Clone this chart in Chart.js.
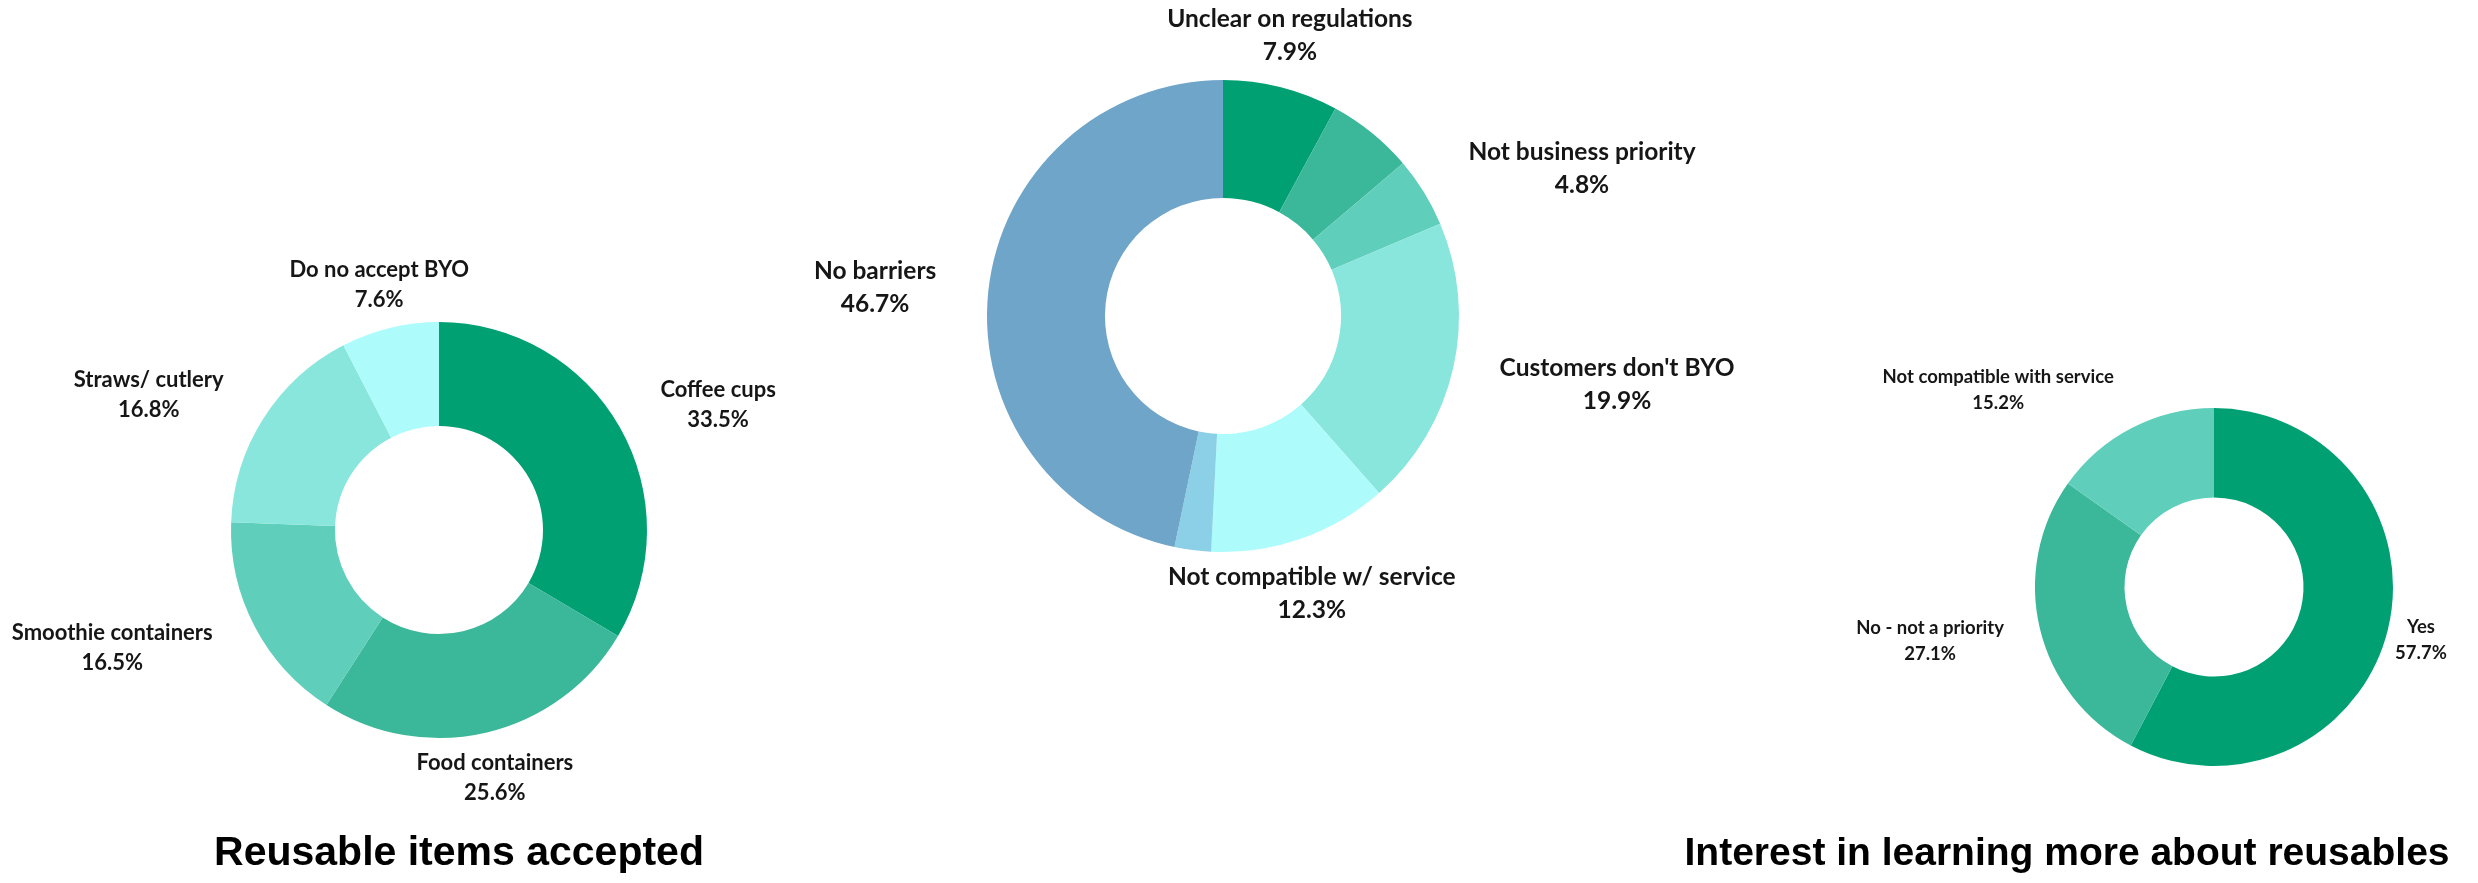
<!DOCTYPE html>
<html>
<head>
<meta charset="utf-8">
<script src="https://cdn.jsdelivr.net/npm/chart.js@4.4.1/dist/chart.umd.min.js"></script>
<style>
  html, body { margin: 0; padding: 0; background: #fff; }
  #wrap { position: relative; width: 2478px; height: 883px; overflow: hidden; }
  #wrap canvas { position: absolute; left: 0; top: 0; }
</style>
</head>
<body>
<div id="wrap">
  <canvas id="items" width="2478" height="883"></canvas>
  <canvas id="barriers" width="2478" height="883"></canvas>
  <canvas id="interest" width="2478" height="883"></canvas>
</div>
<script>
// reusable items accepted
const itemLabels = ['Coffee cups', 'Food containers', 'Smoothie containers', 'Straws/ cutlery', 'Do no accept BYO'];
const itemValues = [33.5, 25.6, 16.5, 16.8, 7.6];

// barriers (two small slices carry no label in the original)
const barrierLabels = ['Unclear on regulations', '', 'Not business priority', "Customers don't BYO", 'Not compatible w/ service', '', 'No barriers'];
const barrierValues = [7.9, 5.9, 4.8, 19.9, 12.3, 2.5, 46.7];

// interest in learning more
const interestLabels = ['Yes', 'No - not a priority', 'Not compatible with service'];
const interestValues = [57.7, 27.1, 15.2];

const titleItems = 'Reusable items accepted';
const titleInterest = 'Interest in learning more about reusables';

const green = ['#00a073', '#3bb79a', '#5fcebb', '#89e6dc', '#adfcfb'];
const barrierColors = ['#00a073', '#3bb79a', '#5fcebb', '#89e6dc', '#adfcfb', '#8bd0e6', '#6ea5c8'];

// draws the two-line labels around the ring, plus an optional title
const sliceLabels = {
  id: 'sliceLabels',
  afterDatasetsDraw(chart, args, opts) {
    const ctx = chart.ctx;
    const meta = chart.getDatasetMeta(0);
    const values = chart.data.datasets[0].data;
    ctx.save();
    ctx.fillStyle = '#161616';
    ctx.font = 'bold ' + opts.size + 'px Lato, "Open Sans", sans-serif';
    ctx.textAlign = 'center';
    ctx.textBaseline = 'middle';
    meta.data.forEach((arc, i) => {
      const name = chart.data.labels[i];
      if (!name) return;
      const p = arc.getProps(['x', 'y', 'startAngle', 'endAngle', 'outerRadius'], true);
      const shift = opts.spots[i][0], dist = opts.spots[i][1];
      const a = (p.startAngle + p.endAngle) / 2 + shift * Math.PI / 180;
      const x = p.x + Math.cos(a) * p.outerRadius * dist;
      const y = p.y + Math.sin(a) * p.outerRadius * dist;
      ctx.fillText(name, x, y - opts.gap / 2);
      ctx.fillText(values[i].toFixed(1) + '%', x, y + opts.gap / 2);
    });
    if (opts.title) {
      const t = opts.title;
      ctx.fillStyle = '#000';
      ctx.font = 'bold ' + t.size + 'px "Liberation Sans", Arial, sans-serif';
      ctx.textBaseline = 'alphabetic';
      ctx.fillText(t.text, t.x, t.y);
    }
    ctx.restore();
  }
};

function donut(id, labels, values, colors, ring, labelOpts) {
  const W = 2478, H = 883;
  return new Chart(document.getElementById(id), {
    type: 'doughnut',
    data: {
      labels: labels,
      datasets: [{
        data: values,
        backgroundColor: colors,
        borderWidth: 0,
        hoverOffset: 0
      }]
    },
    options: {
      responsive: false,
      animation: false,
      cutout: '50%',
      layout: {
        padding: {
          left: ring.cx - ring.r,
          right: W - ring.cx - ring.r,
          top: ring.cy - ring.r,
          bottom: H - ring.cy - ring.r
        }
      },
      plugins: {
        legend: { display: false },
        tooltip: { enabled: false },
        sliceLabels: labelOpts
      }
    },
    plugins: [sliceLabels]
  });
}

donut('items', itemLabels, itemValues, green,
  { cx: 439, cy: 530, r: 208 },
  {
    size: 22, gap: 30,
    spots: [[5.6, 1.47], [0.6, 1.22], [7.7, 1.67], [-7.4, 1.54], [0, 1.215]],
    title: { text: titleItems, size: 41, x: 459, y: 865 }
  });

donut('barriers', barrierLabels, barrierValues, barrierColors,
  { cx: 1223, cy: 316, r: 236 },
  {
    size: 24.5, gap: 33,
    spots: [[-0.8, 1.222], [0, 1], [9.4, 1.644], [-2.9, 1.695], [1.5, 1.233], [0, 1], [-1.3, 1.479]]
  });

donut('interest', interestLabels, interestValues, green.slice(0, 3),
  { cx: 2214, cy: 587, r: 179 },
  {
    size: 18.5, gap: 26,
    spots: [[0.6, 1.194], [2.8, 1.614], [-20.3, 1.631]],
    title: { text: titleInterest, size: 39, x: 2067, y: 865 }
  });
</script>
</body>
</html>
